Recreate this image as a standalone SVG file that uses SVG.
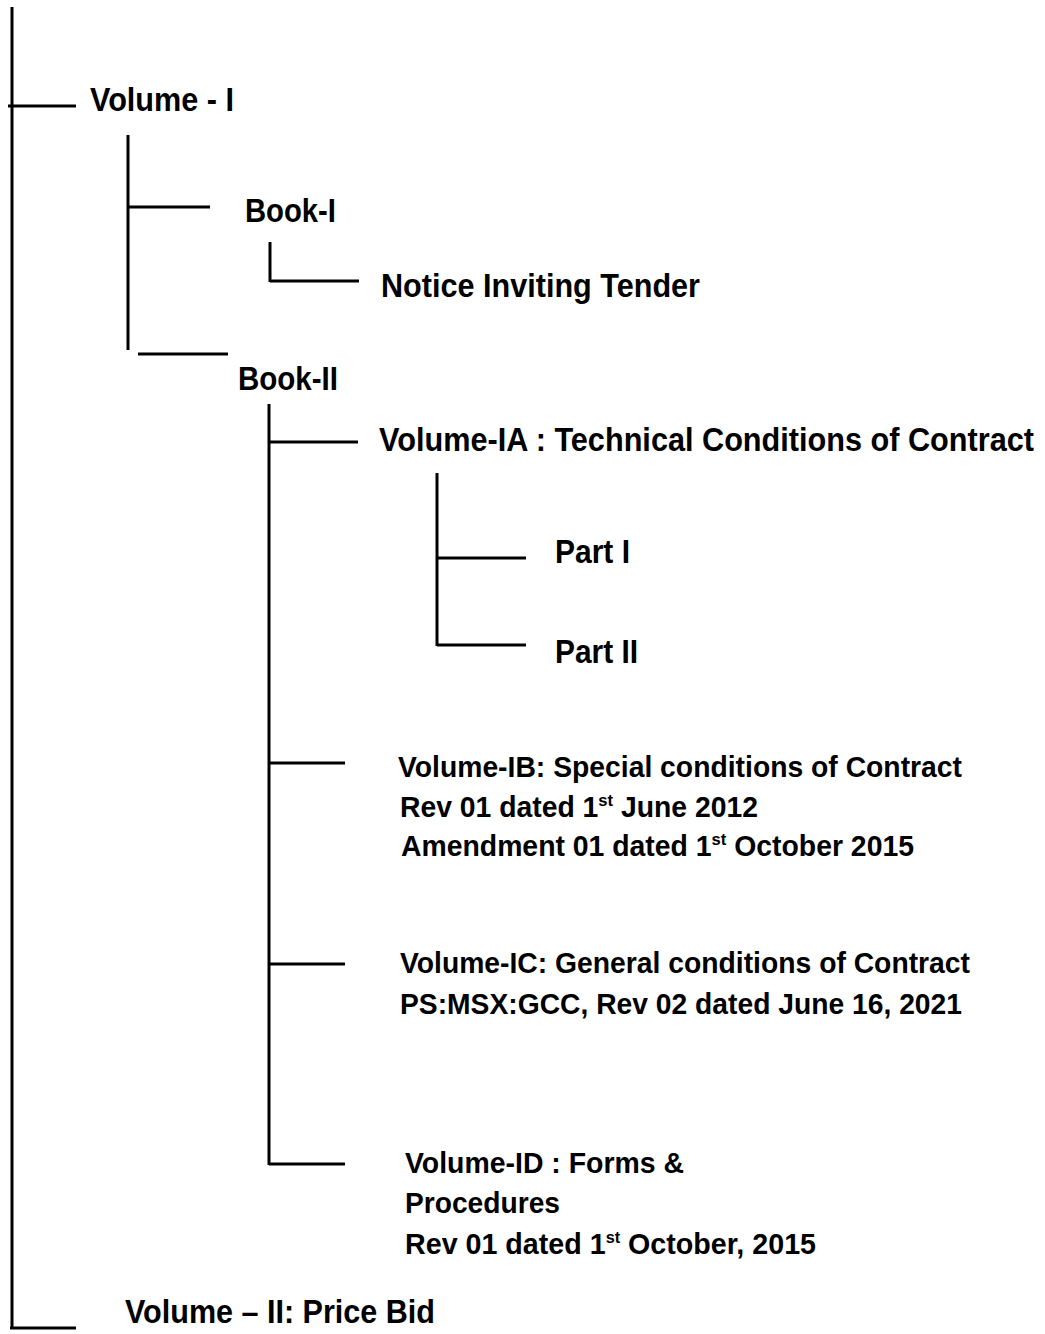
<svg xmlns="http://www.w3.org/2000/svg" width="1045" height="1334" viewBox="0 0 1045 1334">
<style>
.c line{stroke:#000;stroke-width:3;stroke-linecap:butt}
text{font-family:"Liberation Sans",Arial,sans-serif;font-weight:bold;fill:#000}
.a{font-size:33px}
.b{font-size:29px}
.d{font-size:30px}
.s{font-size:17px}
</style>
<rect width="1045" height="1334" fill="#fff"/>
<g class="c" id="connectors">
<line x1="12" y1="7" x2="12" y2="1329"/>
<line x1="8" y1="106" x2="76" y2="106"/>
<line x1="10" y1="1328" x2="76" y2="1328"/>
<line x1="128" y1="135" x2="128" y2="350"/>
<line x1="128" y1="207" x2="210" y2="207"/>
<line x1="138" y1="354" x2="228" y2="354"/>
<line x1="270" y1="242" x2="270" y2="282"/>
<line x1="270" y1="281" x2="359" y2="281"/>
<line x1="269" y1="404" x2="269" y2="1165"/>
<line x1="269" y1="442" x2="358" y2="442"/>
<line x1="437" y1="473" x2="437" y2="646"/>
<line x1="437" y1="558" x2="526" y2="558"/>
<line x1="437" y1="645" x2="526" y2="645"/>
<line x1="269" y1="763" x2="345" y2="763"/>
<line x1="269" y1="964" x2="345" y2="964"/>
<line x1="269" y1="1164" x2="345" y2="1164"/>
</g>
<g id="n-vol1"><text class="a" x="90" y="111" textLength="144" lengthAdjust="spacingAndGlyphs">Volume - I</text></g>
<g id="n-book1"><text class="a" x="245" y="222" textLength="91" lengthAdjust="spacingAndGlyphs">Book-I</text></g>
<g id="n-nit"><text class="a" x="381" y="297" textLength="319" lengthAdjust="spacingAndGlyphs">Notice Inviting Tender</text></g>
<g id="n-book2"><text class="a" x="238" y="390" textLength="100" lengthAdjust="spacingAndGlyphs">Book-II</text></g>
<g id="n-vol1a"><text class="a" x="379" y="451" textLength="655" lengthAdjust="spacingAndGlyphs">Volume-IA : Technical Conditions of Contract</text></g>
<g id="n-part1"><text class="a" x="555" y="563" textLength="75" lengthAdjust="spacingAndGlyphs">Part I</text></g>
<g id="n-part2"><text class="a" x="555" y="663" textLength="83" lengthAdjust="spacingAndGlyphs">Part II</text></g>
<g id="n-vol1b">
<text class="b" x="398" y="777" textLength="564" lengthAdjust="spacingAndGlyphs">Volume-IB: Special conditions of Contract</text>
<text class="b" x="400" y="817" textLength="358" lengthAdjust="spacingAndGlyphs">Rev 01 dated 1<tspan class="s" dy="-11">st</tspan><tspan dy="11"> June 2012</tspan></text>
<text class="b" x="401" y="856" textLength="513" lengthAdjust="spacingAndGlyphs">Amendment 01 dated 1<tspan class="s" dy="-11">st</tspan><tspan dy="11"> October 2015</tspan></text>
</g>
<g id="n-vol1c">
<text class="b" x="400" y="973" textLength="570" lengthAdjust="spacingAndGlyphs">Volume-IC: General conditions of Contract</text>
<text class="b" x="400" y="1014" textLength="562" lengthAdjust="spacingAndGlyphs">PS:MSX:GCC, Rev 02 dated June 16, 2021</text>
</g>
<g id="n-vol1d">
<text class="d" x="405" y="1173" textLength="279" lengthAdjust="spacingAndGlyphs">Volume-ID : Forms &amp;</text>
<text class="d" x="405" y="1213" textLength="155" lengthAdjust="spacingAndGlyphs">Procedures</text>
<text class="d" x="405" y="1254" textLength="411" lengthAdjust="spacingAndGlyphs">Rev 01 dated 1<tspan class="s" dy="-11">st</tspan><tspan dy="11"> October, 2015</tspan></text>
</g>
<g id="n-vol2"><text class="a" x="125" y="1323" textLength="310" lengthAdjust="spacingAndGlyphs">Volume – II: Price Bid</text></g>
</svg>
